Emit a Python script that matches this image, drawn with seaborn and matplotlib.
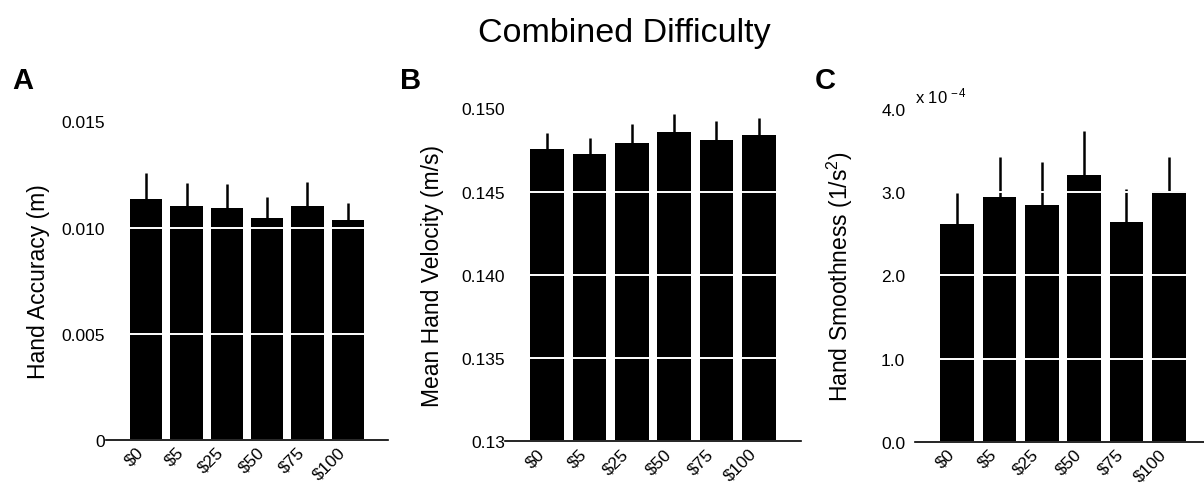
import numpy as np
import pandas as pd
import matplotlib
matplotlib.use("Agg")
import matplotlib.pyplot as plt
import seaborn as sns

# ---------------- data ----------------
rewards = ["$0", "$5", "$25", "$50", "$75", "$100"]

accuracy_mean = [0.01136, 0.01102, 0.01094, 0.01044, 0.01102, 0.01034]
accuracy_err = [0.00123, 0.00108, 0.00113, 0.00102, 0.00113, 0.00084]

velocity_mean = [0.14758, 0.14726, 0.14794, 0.14858, 0.14812, 0.14838]
velocity_err = [0.00092, 0.00098, 0.00110, 0.00106, 0.00110, 0.00104]

# smoothness in units of 1e-4 (1/s^2)
smooth_mean = [2.617, 2.942, 2.850, 3.210, 2.637, 3.018]
smooth_err = [0.369, 0.481, 0.517, 0.529, 0.397, 0.401]

acc_ticks = [0, 0.005, 0.010, 0.015]
acc_ticklabels = ["0", "0.005", "0.010", "0.015"]
vel_ticks = [0.13, 0.135, 0.140, 0.145, 0.150]
vel_ticklabels = ["0.13", "0.135", "0.140", "0.145", "0.150"]
sm_ticks = [0.0, 1.0, 2.0, 3.0, 4.0]
sm_ticklabels = ["0.0", "1.0", "2.0", "3.0", "4.0"]

# ---------------- style ----------------
sns.set_style("white")
plt.rcParams["font.family"] = ["Liberation Sans", "DejaVu Sans"]
plt.rcParams["mathtext.fontset"] = "custom"
plt.rcParams["mathtext.rm"] = "Liberation Sans"
plt.rcParams["mathtext.it"] = "Liberation Sans:italic"
plt.rcParams["mathtext.bf"] = "Liberation Sans:bold"
plt.rcParams["text.color"] = "black"
plt.rcParams["axes.labelcolor"] = "black"
plt.rcParams["xtick.color"] = "black"
plt.rcParams["ytick.color"] = "black"
plt.rcParams["xtick.labelcolor"] = "black"
plt.rcParams["ytick.labelcolor"] = "black"

W, H = 1204, 485
fig = plt.figure(figsize=(W / 100, H / 100), dpi=100)


def px_axes(left, right, top, bottom):
    return fig.add_axes([left / W, 1 - bottom / H, (right - left) / W, (bottom - top) / H])


panels = [
    dict(box=(106, 388, 122.5, 441), xmax=6.0, mean=accuracy_mean, err=accuracy_err,
         ylim=(0, 0.015), ticks=acc_ticks, labels=acc_ticklabels,
         ylabel="Hand Accuracy (m)", pad=0.5, labx=-0.199, letter="A", lx=12.7),
    dict(box=(505, 801, 109.5, 442.3), xmax=6.0, mean=velocity_mean, err=velocity_err,
         ylim=(0.13, 0.150), ticks=vel_ticks, labels=vel_ticklabels,
         ylabel="Mean Hand Velocity (m/s)", pad=0.0, labx=-0.206, letter="B", lx=400),
    dict(box=(915, 1204, 110, 442.7), xmax=6.0 - 7 / 42.3, mean=smooth_mean, err=smooth_err,
         ylim=(0, 4.0), ticks=sm_ticks, labels=sm_ticklabels,
         ylabel=r"Hand Smoothness (1/s$\mathregular{^2}$)", pad=7, labx=-0.208, letter="C", lx=815),
]

for p in panels:
    ax = px_axes(*p["box"])
    df = pd.DataFrame({"reward": rewards, "value": p["mean"]})
    sns.barplot(data=df, x="reward", y="value", order=rewards, color="black",
                saturation=1, errorbar=None, width=0.8, linewidth=0, ax=ax, zorder=2)
    xs = np.arange(len(rewards))
    err = np.asarray(p["err"])
    ax.errorbar(xs, p["mean"], yerr=[np.zeros_like(err), err], fmt="none",
                ecolor="black", elinewidth=1.8, capsize=0, zorder=1.5)
    ax.set_xlim(-1, p["xmax"])
    ax.set_ylim(*p["ylim"])
    ax.set_yticks(p["ticks"], p["labels"])
    ax.set_xticks(xs, [r.replace("$", r"\$") for r in rewards], rotation=45,
                  ha="right", fontsize=12.5)
    ax.tick_params(axis="y", length=0, pad=p["pad"], labelsize=12.5)
    ax.tick_params(axis="x", length=0, pad=3)
    ax.set_xlabel("")
    ax.set_ylabel(p["ylabel"], fontsize=16.5, color="black")
    ax.yaxis.set_label_coords(p["labx"], 0.5)
    for s in ["top", "right", "left"]:
        ax.spines[s].set_visible(False)
    ax.spines["bottom"].set_linewidth(1.2)
    ax.spines["bottom"].set_color("black")
    ax.spines["bottom"].set_zorder(5)
    ax.set_axisbelow(False)
    ax.yaxis.grid(True, color="white", linewidth=1.4, zorder=4)
    ax.xaxis.grid(False)
    for gl in ax.get_ygridlines():
        gl.set_zorder(4)
    fig.text(p["lx"] / W, 1 - 89 / H, p["letter"], fontsize=21, fontweight="bold",
             ha="left", va="baseline", color="black")
    if p["letter"] == "C":
        ax.text(0, 1 + 6.8 / (p["box"][3] - p["box"][2]), r"x 10$\mathregular{^{\,-4}}$",
                transform=ax.transAxes, fontsize=12, ha="left", va="baseline",
                color="black")

fig.text(624.5 / W, 1 - 42 / H, "Combined Difficulty", fontsize=24.5,
         ha="center", va="baseline", color="black")

fig.savefig("out.png", dpi=100)
